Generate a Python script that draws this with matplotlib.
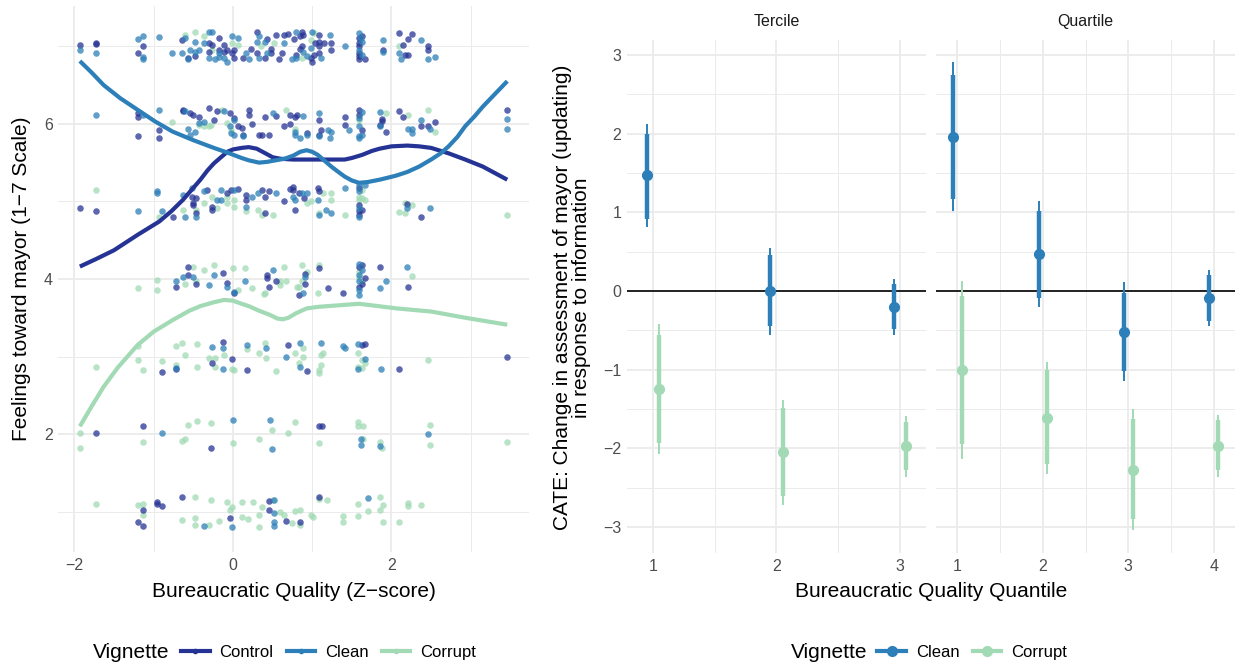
#!/usr/bin/env python3
"""Feelings toward mayor by bureaucratic quality, and CATE by quantile."""

import matplotlib

matplotlib.use("Agg")
import matplotlib.pyplot as plt  # noqa: E402
from matplotlib.lines import Line2D  # noqa: E402
from matplotlib.ticker import FixedLocator  # noqa: E402

plt.rcParams["font.family"] = ["Liberation Sans", "DejaVu Sans"]

COLORS = {"Control": "#253494", "Clean": "#2c7fb8", "Corrupt": "#a1dab4"}
GRID = "#ebebeb"
TICK = "#4d4d4d"
TITLE_SIZE = 15
TICK_SIZE = 11.5

# ---- left panel: jittered responses (x = z-score, y = 1-7 rating + jitter)
control_pts = [
    (-1.93, 7.02), (-1.73, 7.04), (-1.73, 7.03), (-1.20, 6.92), (-1.14, 7.00),
    (-0.64, 7.08), (-0.57, 6.85), (-0.48, 6.87), (-0.30, 7.04), (-0.30, 6.93),
    (-0.26, 7.02), (-0.17, 7.11), (-0.17, 6.95), (-0.11, 7.02), (-0.11, 6.93),
    (-0.07, 6.95), (-0.01, 6.91), (0.02, 6.95), (0.02, 6.85), (0.13, 6.85),
    (0.23, 6.96), (0.30, 7.19), (0.30, 6.91), (0.40, 6.85), (0.43, 7.09),
    (0.48, 6.96), (0.48, 6.91), (0.54, 7.15), (0.58, 6.83), (0.62, 6.91),
    (0.65, 7.15), (0.70, 7.16), (0.77, 7.09), (0.80, 6.89), (0.84, 7.13),
    (0.84, 6.96), (0.87, 7.19), (0.87, 7.00), (0.89, 7.15), (0.98, 6.85),
    (1.00, 6.80), (1.02, 6.89), (1.04, 7.04), (1.09, 7.15), (1.09, 7.06),
    (1.09, 7.00), (1.09, 6.91), (1.15, 7.04), (1.24, 6.95), (1.24, 7.04),
    (1.59, 7.11), (1.59, 7.04), (1.59, 7.00), (1.59, 6.91), (1.59, 6.87),
    (1.59, 6.83), (1.63, 7.13), (1.67, 6.83), (1.89, 6.95), (2.09, 7.17),
    (2.15, 7.02), (2.17, 6.89), (2.21, 7.09), (2.21, 6.89), (2.26, 7.16),
    (2.46, 7.00), (2.46, 6.95),
    (-1.20, 6.14), (-1.20, 6.09), (-1.20, 5.84), (-0.93, 5.92), (-0.93, 5.82),
    (-0.63, 6.18), (-0.63, 6.17), (-0.54, 6.14), (-0.50, 6.12), (-0.43, 6.09),
    (-0.30, 6.20), (-0.24, 6.05), (-0.20, 6.16), (-0.04, 6.14), (0.02, 6.07),
    (0.06, 5.97), (0.11, 5.95), (0.13, 5.86), (0.20, 6.18), (0.20, 6.12),
    (0.24, 6.00), (0.33, 5.86), (0.37, 5.85), (0.40, 6.09), (0.46, 5.85),
    (0.54, 6.10), (0.64, 5.97), (0.72, 6.12), (0.72, 6.00), (0.78, 6.09),
    (0.81, 6.12), (0.93, 5.88), (1.09, 6.05), (1.09, 5.86), (1.11, 5.92),
    (1.41, 6.09), (1.41, 5.99), (1.59, 6.18), (1.59, 6.12), (1.63, 5.92),
    (1.85, 5.99), (1.88, 6.06), (1.88, 6.04), (1.93, 5.90), (2.09, 6.17),
    (2.15, 6.09), (2.37, 5.97), (2.46, 5.97), (2.55, 6.03), (3.46, 6.18),
    (-1.93, 4.91), (-1.73, 4.88), (-0.76, 4.80), (-0.52, 5.06), (-0.50, 4.98),
    (-0.50, 4.95), (-0.46, 5.04), (-0.46, 4.85), (-0.33, 5.15), (-0.26, 4.93),
    (-0.26, 4.89), (-0.07, 5.11), (-0.02, 5.15), (0.06, 5.16), (0.17, 5.08),
    (0.17, 5.02), (0.37, 5.15), (0.41, 5.06), (0.41, 4.85), (0.46, 5.13),
    (0.65, 5.00), (0.72, 5.16), (0.76, 5.19), (0.76, 5.15), (0.78, 4.89),
    (0.83, 5.11), (0.90, 5.04), (1.07, 5.17), (1.09, 5.13), (1.59, 5.17),
    (1.59, 4.95), (1.59, 4.87), (1.59, 4.83), (1.63, 4.89), (2.20, 4.97),
    (2.37, 4.80),
    (-0.72, 3.90), (-0.57, 4.16), (-0.57, 4.05), (-0.46, 3.94), (-0.13, 4.08),
    (-0.07, 3.95), (0.02, 3.82), (0.43, 4.05), (0.43, 4.01), (0.46, 3.89),
    (0.54, 3.97), (0.83, 3.79), (0.91, 4.07), (0.91, 3.94), (1.09, 4.14),
    (1.20, 3.88), (1.39, 3.82), (1.59, 4.16), (1.59, 3.90), (1.63, 4.18),
    (1.63, 3.94), (1.67, 4.01), (1.85, 4.16), (2.21, 3.90),
    (-0.89, 2.80), (-0.72, 2.84), (-0.13, 3.19), (-0.26, 2.91), (-0.01, 2.97),
    (0.18, 2.83), (0.70, 3.15), (0.93, 2.81), (1.63, 3.15), (1.67, 3.16),
    (2.09, 2.84), (3.46, 3.00),
    (-1.73, 2.02), (-1.13, 2.11), (-0.27, 1.82), (1.09, 2.11), (1.12, 2.11),
    (-1.20, 0.87), (-1.13, 1.02), (-1.13, 0.81), (-0.96, 1.12), (-0.96, 1.10),
    (-0.89, 1.07), (-0.64, 1.19), (-0.04, 0.92), (0.46, 1.14), (0.46, 1.02),
    (0.67, 0.88), (0.84, 0.87), (1.09, 1.19),
]

clean_pts = [
    (-1.93, 6.95), (-1.73, 6.91), (-1.20, 7.09), (-1.14, 7.13), (-1.14, 6.86),
    (-1.14, 6.83), (-0.93, 7.12), (-0.77, 6.92), (-0.64, 6.91), (-0.60, 7.11),
    (-0.57, 6.83), (-0.54, 6.95), (-0.48, 7.06), (-0.48, 6.93), (-0.43, 6.95),
    (-0.37, 7.04), (-0.30, 7.19), (-0.30, 6.85), (-0.26, 7.19), (-0.23, 6.83),
    (-0.17, 6.91), (-0.17, 6.86), (-0.11, 6.85), (-0.07, 6.80), (-0.01, 7.13),
    (0.06, 7.11), (0.17, 6.91), (0.20, 6.83), (0.30, 7.06), (0.33, 7.13),
    (0.33, 6.85), (0.40, 7.06), (0.43, 6.91), (0.65, 7.04), (0.74, 6.83),
    (0.80, 7.19), (0.80, 6.85), (0.89, 6.93), (0.93, 6.87), (0.98, 6.98),
    (1.00, 7.19), (1.11, 6.85), (1.22, 7.14), (1.41, 7.00), (1.59, 7.17),
    (1.59, 6.95), (1.61, 7.11), (1.63, 7.06), (1.63, 6.89), (1.89, 7.08),
    (1.89, 6.93), (2.09, 6.92), (2.12, 6.83), (2.37, 7.08), (2.46, 6.83),
    (2.55, 6.86),
    (-1.73, 6.11), (-1.14, 6.12), (-0.93, 6.18), (-0.60, 6.17), (-0.57, 5.94),
    (-0.54, 5.85), (-0.48, 5.90), (-0.43, 6.01), (-0.37, 6.03), (-0.11, 6.16),
    (-0.04, 5.97), (-0.02, 5.88), (0.02, 6.05), (0.02, 5.86), (0.13, 5.84),
    (0.50, 6.14), (0.78, 5.89), (0.78, 5.86), (0.85, 5.82), (0.88, 6.10),
    (0.93, 5.86), (1.09, 6.14), (1.09, 5.84), (1.20, 5.92), (1.22, 5.82),
    (1.24, 5.90), (1.46, 5.92), (1.59, 6.07), (1.59, 5.97), (1.59, 5.84),
    (1.59, 5.82), (1.63, 6.15), (1.63, 5.86), (1.85, 6.15), (1.85, 5.97),
    (2.21, 5.94), (2.26, 5.94), (2.26, 5.88), (2.37, 6.05), (2.49, 5.94),
    (3.46, 6.06), (3.46, 5.94),
    (-1.20, 4.87), (-0.96, 5.13), (-0.96, 5.11), (-0.89, 4.87), (-0.63, 5.08),
    (-0.60, 4.80), (-0.52, 5.17), (-0.46, 4.80), (-0.37, 5.14), (-0.20, 5.02),
    (-0.15, 5.15), (-0.15, 5.02), (0.02, 5.15), (0.17, 4.93), (0.24, 5.06),
    (0.32, 5.11), (0.54, 5.11), (0.76, 5.06), (0.78, 5.02), (0.87, 5.11),
    (0.93, 5.11), (1.07, 5.02), (1.09, 4.83), (1.17, 4.89), (1.24, 4.85),
    (1.41, 5.17), (1.59, 5.21), (1.59, 5.13), (1.59, 4.91), (1.59, 4.80),
    (1.67, 5.21), (2.20, 4.91), (2.49, 4.91),
    (-0.72, 3.97), (-0.63, 4.03), (-0.50, 4.03), (-0.30, 3.92), (-0.24, 4.05),
    (-0.07, 3.90), (0.02, 3.83), (0.15, 3.97), (0.50, 4.12), (0.89, 3.82),
    (0.91, 4.03), (1.59, 4.19), (1.59, 4.05), (1.59, 3.97), (1.59, 3.86),
    (1.59, 3.79), (1.63, 4.12), (1.85, 3.88), (1.93, 3.97), (2.20, 4.16),
    (-0.72, 2.85), (-0.26, 3.12), (-0.13, 3.11), (-0.13, 2.84), (0.18, 3.15),
    (0.42, 3.11), (0.67, 2.99), (0.85, 3.18), (0.85, 2.87), (1.11, 3.18),
    (1.39, 3.14), (1.41, 3.11), (1.58, 3.16), (1.58, 2.84), (1.67, 2.97),
    (1.87, 2.84),
    (-0.89, 2.02), (0.00, 2.18), (0.47, 2.18), (0.49, 1.81), (1.62, 1.93),
    (1.62, 1.86), (1.86, 1.84), (2.46, 2.00),
    (-0.37, 0.82), (-0.01, 0.80), (0.52, 1.15), (0.52, 0.98), (0.52, 0.86),
    (0.52, 0.81), (1.70, 1.17),
]

corrupt_pts = [
    (-0.60, 7.14), (-0.48, 7.19), (-0.37, 7.13), (-0.26, 6.95), (-0.01, 7.04),
    (0.06, 7.02), (0.36, 7.00), (0.52, 7.04), (0.87, 6.85), (0.98, 7.08),
    (1.02, 7.17), (2.09, 7.00),
    (-0.77, 6.02), (-0.43, 5.99), (-0.37, 5.97), (-0.30, 5.97), (-0.28, 5.99),
    (-0.14, 6.18), (-0.07, 6.01), (-0.02, 5.92), (0.67, 6.18), (0.78, 5.94),
    (1.59, 6.05), (1.93, 6.14), (2.21, 6.12), (2.46, 6.18), (2.55, 5.90),
    (-1.73, 5.15), (-0.93, 4.80), (-0.63, 4.89), (-0.46, 4.89), (-0.37, 4.98),
    (-0.26, 5.06), (-0.20, 4.91), (-0.07, 5.06), (-0.07, 4.98), (0.02, 5.02),
    (0.02, 4.93), (0.17, 4.87), (0.32, 4.89), (0.37, 4.83), (0.50, 4.83),
    (0.93, 4.98), (0.98, 5.00), (1.09, 4.85), (1.13, 5.11), (1.24, 5.11),
    (1.24, 5.02), (1.41, 4.83), (1.59, 5.06), (1.59, 5.02), (1.63, 5.15),
    (1.63, 5.04), (1.67, 5.02), (2.09, 4.86), (2.17, 4.98), (2.17, 4.85),
    (2.26, 4.95), (3.46, 4.83),
    (-1.20, 3.88), (-0.96, 3.99), (-0.96, 3.86), (-0.60, 3.93), (-0.50, 4.16),
    (-0.46, 3.97), (-0.37, 4.12), (-0.24, 4.18), (0.00, 4.14), (0.06, 3.86),
    (0.15, 4.14), (0.24, 3.88), (0.39, 3.80), (0.41, 3.82), (0.59, 3.92),
    (0.59, 3.98), (0.64, 4.16), (0.67, 3.97), (0.81, 3.89), (0.83, 3.90),
    (0.87, 4.18), (0.87, 3.97), (0.93, 4.09), (1.07, 3.82), (1.09, 4.18),
    (1.59, 4.09), (1.59, 4.01), (1.63, 3.97), (2.26, 4.04),
    (-1.73, 2.86), (-1.20, 3.13), (-1.20, 2.95), (-1.13, 2.82), (-0.89, 2.94),
    (-0.72, 3.14), (-0.72, 2.89), (-0.64, 3.18), (-0.60, 3.02), (-0.45, 3.16),
    (-0.45, 2.86), (-0.30, 2.98), (-0.23, 2.98), (-0.23, 2.87), (-0.11, 3.02),
    (-0.01, 2.84), (0.02, 2.82), (0.18, 3.10), (0.33, 3.05), (0.40, 3.17),
    (0.42, 2.98), (0.54, 2.81), (0.78, 3.04), (0.83, 2.92), (0.89, 3.11),
    (0.89, 2.99), (1.09, 2.82), (1.09, 2.79), (1.11, 3.02), (1.11, 2.89),
    (1.13, 3.04), (1.58, 3.04), (1.58, 2.87), (1.63, 2.96), (1.63, 2.85),
    (1.67, 2.92), (2.46, 2.96),
    (-1.93, 2.01), (-1.93, 1.82), (-1.13, 1.90), (-0.64, 1.91), (-0.60, 1.93),
    (-0.57, 2.12), (-0.45, 2.17), (-0.27, 2.14), (0.00, 1.89), (0.33, 1.93),
    (0.49, 2.05), (0.69, 2.01), (0.78, 2.15), (1.09, 1.88), (1.58, 2.16),
    (1.58, 2.11), (1.64, 2.10), (1.64, 1.93), (1.86, 1.90), (1.88, 1.82),
    (2.49, 2.12), (2.49, 1.86), (3.46, 1.90),
    (-1.73, 1.10), (-1.20, 1.09), (-1.13, 1.10), (-1.13, 0.96), (-0.64, 0.89),
    (-0.48, 1.19), (-0.48, 0.92), (-0.48, 0.83), (-0.30, 0.83), (-0.27, 1.15),
    (-0.17, 0.88), (-0.07, 1.12), (-0.04, 1.02), (-0.01, 1.06), (0.12, 1.12),
    (0.12, 0.93), (0.19, 0.90), (0.25, 1.12), (0.33, 0.96), (0.33, 0.80),
    (0.37, 1.06), (0.50, 1.15), (0.59, 1.00), (0.65, 0.96), (0.75, 0.85),
    (0.78, 1.01), (0.84, 1.02), (0.84, 0.83), (0.98, 0.96), (1.01, 0.93),
    (1.09, 1.16), (1.19, 1.15), (1.39, 0.95), (1.39, 0.86), (1.58, 1.10),
    (1.58, 0.94), (1.70, 1.01), (1.86, 1.19), (1.86, 1.02), (1.89, 1.08),
    (1.89, 0.87), (2.09, 0.86), (2.21, 1.11), (2.21, 1.07), (2.37, 1.08),
]

# loess fits
control_fit_x = [-1.93, -1.72, -1.50, -1.20, -0.93, -0.78, -0.63, -0.52,
                 -0.41, -0.32, -0.24, -0.15, -0.07, 0.00, 0.11, 0.20, 0.30,
                 0.41, 0.50, 0.60, 0.76, 0.98, 1.24, 1.41, 1.50, 1.63, 1.75,
                 1.85, 2.00, 2.20, 2.35, 2.50, 2.72, 2.93, 3.15, 3.46]
control_fit_y = [4.16, 4.26, 4.37, 4.57, 4.74, 4.87, 5.02, 5.15, 5.28, 5.40,
                 5.49, 5.57, 5.64, 5.67, 5.69, 5.70, 5.68, 5.62, 5.57, 5.55,
                 5.54, 5.54, 5.54, 5.54, 5.56, 5.60, 5.65, 5.68, 5.71, 5.72,
                 5.71, 5.69, 5.62, 5.54, 5.45, 5.28]
clean_fit_x = [-1.93, -1.78, -1.63, -1.42, -1.20, -0.98, -0.76, -0.50, -0.24,
               -0.07, 0.11, 0.20, 0.33, 0.43, 0.54, 0.65, 0.76, 0.85, 0.93,
               1.00, 1.07, 1.15, 1.24, 1.33, 1.41, 1.50, 1.59, 1.70, 1.85,
               2.05, 2.20, 2.35, 2.50, 2.62, 2.72, 2.83, 2.93, 3.05, 3.15,
               3.30, 3.46]
clean_fit_y = [6.81, 6.66, 6.50, 6.33, 6.18, 6.03, 5.90, 5.79, 5.69, 5.63,
               5.56, 5.53, 5.50, 5.51, 5.53, 5.55, 5.59, 5.64, 5.66, 5.64,
               5.60, 5.53, 5.45, 5.38, 5.32, 5.27, 5.24, 5.25, 5.28, 5.33,
               5.38, 5.45, 5.54, 5.62, 5.71, 5.83, 5.97, 6.10, 6.22, 6.38,
               6.55]
corrupt_fit_x = [-1.93, -1.78, -1.63, -1.45, -1.20, -1.00, -0.76, -0.55,
                 -0.41, -0.24, -0.11, 0.00, 0.11, 0.20, 0.33, 0.46, 0.56,
                 0.63, 0.70, 0.80, 0.93, 1.07, 1.20, 1.59, 2.07, 2.50, 2.93,
                 3.46]
corrupt_fit_y = [2.10, 2.36, 2.61, 2.86, 3.15, 3.32, 3.47, 3.59, 3.65, 3.70,
                 3.73, 3.72, 3.68, 3.65, 3.59, 3.54, 3.49, 3.48, 3.50, 3.56,
                 3.62, 3.64, 3.65, 3.68, 3.62, 3.58, 3.50, 3.41]

# ---- right panels: CATE estimates, 90% (thick) and 95% (thin) intervals
tercile_levels = [1, 2, 3]
ter_clean_est = [1.47, 0.00, -0.20]
ter_clean_lo90 = [0.92, -0.45, -0.48]
ter_clean_hi90 = [2.00, 0.46, 0.09]
ter_clean_lo95 = [0.81, -0.56, -0.56]
ter_clean_hi95 = [2.12, 0.55, 0.15]
ter_corrupt_est = [-1.25, -2.05, -1.97]
ter_corrupt_lo90 = [-1.93, -2.61, -2.28]
ter_corrupt_hi90 = [-0.56, -1.49, -1.66]
ter_corrupt_lo95 = [-2.07, -2.72, -2.36]
ter_corrupt_hi95 = [-0.42, -1.39, -1.59]

quartile_levels = [1, 2, 3, 4]
qua_clean_est = [1.95, 0.47, -0.52, -0.09]
qua_clean_lo90 = [1.17, -0.09, -1.02, -0.38]
qua_clean_hi90 = [2.75, 1.02, -0.03, 0.20]
qua_clean_lo95 = [1.01, -0.20, -1.14, -0.45]
qua_clean_hi95 = [2.91, 1.14, 0.11, 0.27]
qua_corrupt_est = [-1.00, -1.61, -2.27, -1.97]
qua_corrupt_lo90 = [-1.94, -2.20, -2.90, -2.28]
qua_corrupt_hi90 = [-0.06, -1.00, -1.63, -1.64]
qua_corrupt_lo95 = [-2.13, -2.33, -3.04, -2.36]
qua_corrupt_hi95 = [0.13, -0.90, -1.50, -1.58]

DODGE = 0.05


def style_axis(ax, xmajor, xminor, ymajor, yminor):
    ax.xaxis.set_major_locator(FixedLocator(xmajor))
    ax.xaxis.set_minor_locator(FixedLocator(xminor))
    ax.yaxis.set_major_locator(FixedLocator(ymajor))
    ax.yaxis.set_minor_locator(FixedLocator(yminor))
    ax.grid(which="major", color=GRID, lw=1.3, zorder=0)
    ax.grid(which="minor", color=GRID, lw=0.7, zorder=0)
    ax.set_axisbelow(True)
    for s in ax.spines.values():
        s.set_visible(False)
    ax.tick_params(which="both", length=0, labelsize=TICK_SIZE,
                   labelcolor=TICK, pad=4)


def draw_ranges(ax, levels, est, lo90, hi90, lo95, hi95, color, shift):
    xs = [v + shift for v in levels]
    ax.vlines(xs, lo95, hi95, color=color, lw=1.4, zorder=3)
    ax.vlines(xs, lo90, hi90, color=color, lw=3.2, zorder=3)
    ax.plot(xs, est, "o", color=color, ms=7, zorder=4)


fig = plt.figure(figsize=(12.41, 6.65), dpi=100)

# ---- left panel
ax = fig.add_axes([0.0471, 0.170, 0.3789, 0.821])
style_axis(ax, [-2, 0, 2], [-1, 1, 3], [2, 4, 6], [1, 3, 5, 7])
for name, pts in (("Corrupt", corrupt_pts), ("Control", control_pts),
                  ("Clean", clean_pts)):
    ax.scatter([p[0] for p in pts], [p[1] for p in pts], s=22,
               color=COLORS[name], alpha=0.75, linewidths=0, zorder=2)
for name, fx, fy in (("Control", control_fit_x, control_fit_y),
                     ("Clean", clean_fit_x, clean_fit_y),
                     ("Corrupt", corrupt_fit_x, corrupt_fit_y)):
    ax.plot(fx, fy, color=COLORS[name], lw=3.0, zorder=3,
            solid_capstyle="butt", solid_joinstyle="round")
ax.set_xlim(-2.2, 3.73)
ax.set_ylim(0.48, 7.52)
fig.text(0.2365, 0.110, "Bureaucratic Quality (Z\u2212score)",
         fontsize=TITLE_SIZE, ha="center", va="center")
fig.text(0.0177, 0.5805, "Feelings toward mayor (1\u22127 Scale)",
         fontsize=TITLE_SIZE, ha="center", va="center", rotation=90)

# ---- right panels
axt = fig.add_axes([0.5052, 0.1684, 0.2410, 0.7716])
axq = fig.add_axes([0.7542, 0.1684, 0.2410, 0.7716], sharey=axt)
style_axis(axt, [1, 2, 3], [1.5, 2.5], range(-3, 4),
           [-2.5, -1.5, -0.5, 0.5, 1.5, 2.5])
style_axis(axq, [1, 2, 3, 4], [1.5, 2.5, 3.5], range(-3, 4),
           [-2.5, -1.5, -0.5, 0.5, 1.5, 2.5])
axq.tick_params(labelleft=False)
for a in (axt, axq):
    a.axhline(0, color="black", lw=1.2, zorder=2)
draw_ranges(axt, tercile_levels, ter_clean_est, ter_clean_lo90,
            ter_clean_hi90, ter_clean_lo95, ter_clean_hi95,
            COLORS["Clean"], -DODGE)
draw_ranges(axt, tercile_levels, ter_corrupt_est, ter_corrupt_lo90,
            ter_corrupt_hi90, ter_corrupt_lo95, ter_corrupt_hi95,
            COLORS["Corrupt"], DODGE)
draw_ranges(axq, quartile_levels, qua_clean_est, qua_clean_lo90,
            qua_clean_hi90, qua_clean_lo95, qua_clean_hi95,
            COLORS["Clean"], -DODGE)
draw_ranges(axq, quartile_levels, qua_corrupt_est, qua_corrupt_lo90,
            qua_corrupt_hi90, qua_corrupt_lo95, qua_corrupt_hi95,
            COLORS["Corrupt"], DODGE)
axt.set_xlim(0.79, 3.21)
axq.set_xlim(0.75, 4.25)
axt.set_ylim(-3.33, 3.19)
for a, title in ((axt, "Tercile"), (axq, "Quartile")):
    a.text(0.5, 1.022, title, transform=a.transAxes, ha="center",
           va="bottom", fontsize=TICK_SIZE, color="#1a1a1a")
fig.text(0.461, 0.553, "CATE: Change in assessment of mayor (updating)\n"
         "in response to information", fontsize=TITLE_SIZE, ha="center",
         va="center", rotation=90, linespacing=0.95, multialignment="center")
fig.text(0.750, 0.110, "Bureaucratic Quality Quantile", ha="center",
         va="center", fontsize=TITLE_SIZE)

# ---- legends
LEG_Y = 0.0195
fig.text(0.075, LEG_Y, "Vignette", fontsize=TITLE_SIZE, va="center")
left_handles = [Line2D([], [], color=COLORS[n], lw=3, marker="o", ms=3)
                for n in ("Control", "Clean", "Corrupt")]
fig.legend(left_handles, ["Control", "Clean", "Corrupt"], ncol=3,
           loc="center left", bbox_to_anchor=(0.146, LEG_Y), frameon=False,
           fontsize=12, handlelength=1.7, handletextpad=0.6,
           columnspacing=0.8, borderpad=0, borderaxespad=0)
fig.text(0.637, LEG_Y, "Vignette", fontsize=TITLE_SIZE, va="center")
right_handles = [Line2D([], [], color=COLORS[n], lw=3, marker="o", ms=7)
                 for n in ("Clean", "Corrupt")]
fig.legend(right_handles, ["Clean", "Corrupt"], ncol=2, loc="center left",
           bbox_to_anchor=(0.707, LEG_Y), frameon=False, fontsize=12,
           handlelength=1.7, handletextpad=0.6, columnspacing=0.8,
           borderpad=0, borderaxespad=0)

fig.savefig("out.png", dpi=100)
